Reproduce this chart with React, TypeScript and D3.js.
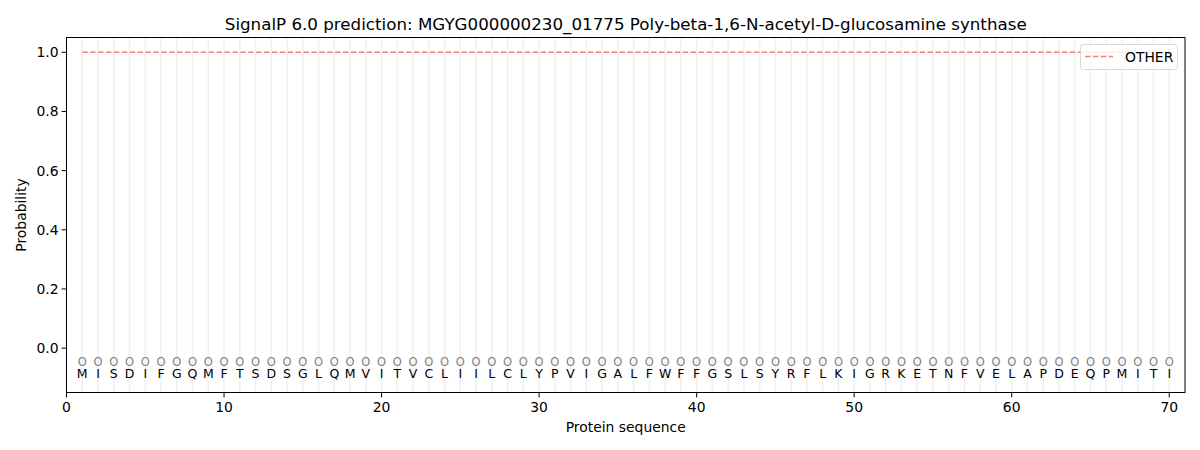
import React from "react";
import * as d3 from "d3";

const sequence = "MISDIFGQMFTSDSGLQMVITVCLIILCLYPVIGALFWFFGSLSYRFLKIGRKETNFVELAPDEQPMITI".split("");
const positions = sequence.map((_, i) => i + 1);
const otherProb = sequence.map(() => 1.0);
const xTicks = [0, 10, 20, 30, 40, 50, 60, 70];
const yTicks = [0.0, 0.2, 0.4, 0.6, 0.8, 1.0];
const title = "SignalP 6.0 prediction: MGYG000000230_01775 Poly-beta-1,6-N-acetyl-D-glucosamine synthase";

const W = 1200, H = 450;
const m = { left: 66.5, right: 1185, top: 37.5, bottom: 392.5 };
const font = "DejaVu Sans, sans-serif";

export default function App() {
  const x = d3.scaleLinear().domain([0, 71]).range([m.left, m.right]);
  const y = d3.scaleLinear().domain([-0.15, 1.05]).range([m.bottom, m.top]);
  const line = d3.line<number>().x((_, i) => x(positions[i])).y((d) => y(d));
  return (
    <svg width={W} height={H} style={{ position: "absolute", left: 0, top: 0 }} fontFamily={font}>
      <rect width={W} height={H} fill="#fff" />
      {positions.map((p) => (
        <line key={"g" + p} x1={x(p)} x2={x(p)} y1={m.top} y2={m.bottom} stroke="#f0f0f0" strokeWidth={1.5} />
      ))}
      <path d={line(otherProb) || ""} fill="none" stroke="#f08080" strokeWidth={1.5} strokeDasharray="5.5,2.4" />
      {positions.map((p, i) => (
        <g key={"s" + p}>
          <text x={x(p)} y={y(-0.05) - 0.5} textAnchor="middle" dominantBaseline="central" fontSize={11.5} fill="#808080">O</text>
          <text x={x(p)} y={y(-0.1) + 0.5} textAnchor="middle" fontSize={12.5} fill="#000">{sequence[i]}</text>
        </g>
      ))}
      <rect x={m.left} y={m.top} width={m.right - m.left} height={m.bottom - m.top} fill="none" stroke="#000" strokeWidth={1} />
      {xTicks.map((t) => (
        <g key={"xt" + t}>
          <line x1={x(t)} x2={x(t)} y1={m.bottom} y2={m.bottom + 4.9} stroke="#000" />
          <text x={x(t)} y={m.bottom + 19} textAnchor="middle" fontSize={13.9}>{t}</text>
        </g>
      ))}
      {yTicks.map((t) => (
        <g key={"yt" + t}>
          <line x1={m.left - 4.9} x2={m.left} y1={y(t)} y2={y(t)} stroke="#000" />
          <text x={m.left - 8} y={y(t)} textAnchor="end" dominantBaseline="central" fontSize={13.9}>{t.toFixed(1)}</text>
        </g>
      ))}
      <text x={(m.left + m.right) / 2} y={30} textAnchor="middle" fontSize={16.7}>{title}</text>
      <text x={(m.left + m.right) / 2} y={432} textAnchor="middle" fontSize={13.9}>Protein sequence</text>
      <text transform={`translate(26,${(m.top + m.bottom) / 2}) rotate(-90)`} textAnchor="middle" fontSize={13.9}>Probability</text>
      <g>
        <rect x={1080.5} y={44.5} width={97} height={25} rx={3} fill="#fff" fillOpacity={0.8} stroke="#d9d9d9" />
        <line x1={1085} x2={1113} y1={56.5} y2={56.5} stroke="#f08080" strokeWidth={1.5} strokeDasharray="5.5,2.4" />
        <text x={1125} y={56.5} dominantBaseline="central" fontSize={13.9}>OTHER</text>
      </g>
    </svg>
  );
}
